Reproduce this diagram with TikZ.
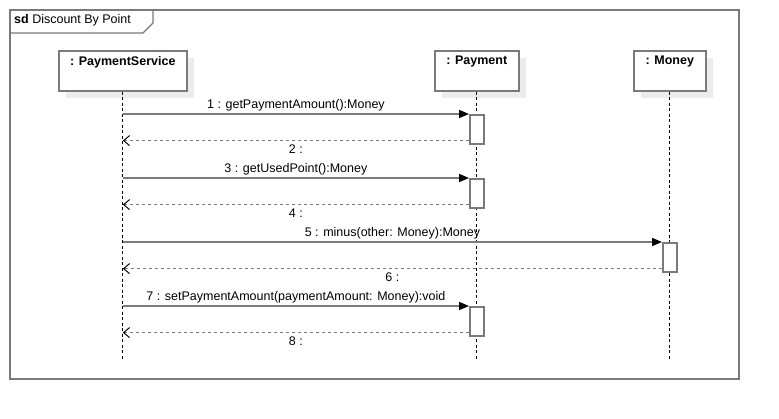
\documentclass[tikz,border=0pt]{standalone}
\usepackage{fontspec}
\setmainfont{Liberation Sans}
\usetikzlibrary{arrows.meta,positioning,shadows}
\definecolor{lngray}{HTML}{7A7A7A}
\definecolor{shgray}{HTML}{ECECEC}
\tikzset{
  frm/.style={draw=lngray,line width=1.3pt},
  head/.style={draw=lngray,line width=1.6pt,fill=white,anchor=north west,minimum height=40pt,inner sep=0pt,
    drop shadow={shadow xshift=7pt,shadow yshift=-7pt,fill=shgray,opacity=1}},
  hdtext/.style={font=\fontsize{12.5}{14}\selectfont\bfseries,inner sep=0pt},
  life/.style={black,line width=0.8pt,dash pattern=on 3pt off 2.5pt},
  actbox/.style={draw=lngray,line width=1.6pt,fill=white,anchor=north,minimum width=14pt,minimum height=29pt,inner sep=0pt},
  call/.style={draw=lngray,line width=1.6pt,-{Triangle[black,length=10pt,width=8pt]}},
  ret/.style={draw=lngray,line width=1.4pt,dash pattern=on 3pt off 3pt,-{Straight Barb[black,length=6pt,width=10pt,line width=1pt]}},
}
\begin{document}
\begin{tikzpicture}[x=1pt,y=1pt,font=\fontsize{12.5}{14}\selectfont]
\useasboundingbox (0,0) rectangle (779,-419);
\pgfmathsetmacro{\kend}{360}
% frame and tab
\draw[frm] (10,-10) rectangle (739,-379);
\draw[frm] (10,-33) -- (143,-33) -- (153,-23) -- (153,-10);
\node[anchor=west,inner sep=0pt] (title) at (14,-20) {\textbf{sd} Discount By Point};
% lifeline heads
\node[head,minimum width=128pt] (ps) at (58,-50) {};
\node[head,minimum width=84pt] (pay) at (434,-50) {};
\node[head,minimum width=72pt] (mon) at (633,-50) {};
\foreach \who/\lb in {ps/{: PaymentService},pay/{: Payment},mon/{: Money}}{
  \node[hdtext] (\who lb) at ([yshift=-12pt]\who.north) {\lb};
  \coordinate (\who end) at (\who.south |- 0,-\kend);
  \draw[life] (\who) -- (\who end);
}
% messages
\foreach \k/\who/\ky/\call/\ret in {1/pay/114/{1 : getPaymentAmount():Money}/{2 :},2/pay/178/{3 : getUsedPoint():Money}/{4 :},3/mon/242/{5 : minus(other: Money):Money}/{6 :},4/pay/306/{7 : setPaymentAmount(paymentAmount: Money):void}/{8 :}}{
  \node[actbox] (act\k) at (\who.south |- 0,-\ky) {};
  \coordinate (src\k) at (ps.south |- act\k.north);
  \coordinate (back\k) at ([yshift=4pt]act\k.south west);
  \coordinate (dst\k) at (ps.south |- back\k);
  \draw[call] (src\k) -- (act\k.north west) node[midway,anchor=base,yshift=5pt,inner sep=0pt]{\call};
  \draw[ret] (back\k) -- (dst\k) node[midway,anchor=base,yshift=-13pt,inner sep=0pt]{\ret};
}
\end{tikzpicture}
\end{document}
